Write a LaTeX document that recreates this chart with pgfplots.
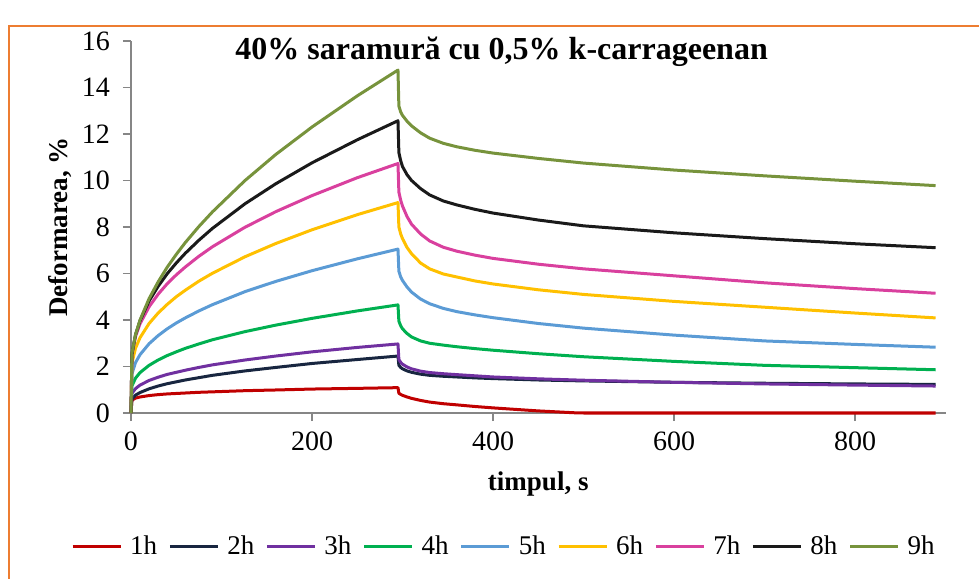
\documentclass[border=0pt]{standalone}
\usepackage{fontspec}
\setmainfont{Liberation Serif}
\usepackage{pgfplots}
\pgfplotsset{compat=1.18}

\definecolor{c1}{RGB}{192,0,0}
\definecolor{c2}{RGB}{24,38,64}
\definecolor{c3}{RGB}{112,48,160}
\definecolor{c4}{RGB}{0,176,80}
\definecolor{c5}{RGB}{91,155,213}
\definecolor{c6}{RGB}{255,192,0}
\definecolor{c7}{RGB}{217,64,158}
\definecolor{c8}{RGB}{26,26,26}
\definecolor{c9}{RGB}{119,147,60}
\definecolor{frame}{RGB}{237,125,49}
\definecolor{axgray}{RGB}{134,134,134}

\begin{document}
\begin{tikzpicture}
\useasboundingbox (0,0) rectangle (489.5pt,289pt);
% outer frame
\draw[frame, line width=1pt] (4.5pt,-20pt) -- (4.5pt,276pt) -- (520pt,276pt);

\begin{axis}[
  at={(65.5pt,82.5pt)}, anchor=south west,
  scale only axis, width=407.25pt, height=186pt,
  xmin=0, xmax=900, ymin=0, ymax=16,
  xtick={0,200,400,600,800}, ytick={0,2,...,16},
  axis x line=bottom, axis y line=left,
  axis line style={axgray, line width=0.6pt, -},
  tick style={axgray, line width=0.6pt},
  tick align=outside, major tick length=4pt,
  /pgf/number format/assume math mode=true,
  ticklabel style={font=\fontsize{14}{16}\selectfont},
  yticklabel style={xshift=-3pt},
  xticklabel style={yshift=-2pt},
  xlabel={\textbf{timpul, s}}, ylabel={\textbf{Deformarea, \%}},
  label style={font=\fontsize{13.5}{15}\selectfont},
  xlabel style={yshift=-3.5pt},
  ylabel style={yshift=-1.5pt},
  every axis plot/.append style={line width=1.5pt, no markers, line join=round},
  legend columns=9,
  legend style={at={(0.459,-0.358)}, anchor=center, draw=none, fill=none,
    font=\fontsize{13.5}{15}\selectfont, column sep=2pt,
    /tikz/every even column/.append style={column sep=3.6pt}},
  legend image code/.code={\draw[#1] (0pt,0pt) -- (24pt,0pt);},
  clip=false,
]
\addplot[c1] coordinates {(0,0)(1,0.55)(5,0.64)(10,0.69)(20,0.75)(30,0.79)(40,0.82)(50,0.84)(60,0.86)(75,0.89)(90,0.91)(126,0.96)(160,0.99)(200,1.03)(250,1.06)(295,1.09)(296,0.85)(298,0.80)(300,0.76)(305,0.69)(310,0.63)(320,0.54)(330,0.47)(345,0.40)(360,0.35)(380,0.28)(400,0.22)(450,0.09)(490,0.01)(500,0)(600,0)(700,0)(800,0)(889,0)};
\addlegendentry{1h}
\addplot[c2] coordinates {(0,0)(1,0.60)(5,0.77)(10,0.88)(20,1.04)(30,1.16)(40,1.26)(50,1.34)(60,1.42)(75,1.52)(90,1.62)(126,1.81)(160,1.96)(200,2.13)(250,2.30)(295,2.45)(296,2.05)(298,1.96)(300,1.90)(305,1.81)(310,1.75)(320,1.67)(330,1.62)(345,1.58)(360,1.55)(380,1.51)(400,1.48)(450,1.42)(500,1.38)(600,1.32)(700,1.28)(800,1.25)(889,1.23)};
\addlegendentry{2h}
\addplot[c3] coordinates {(0,0)(1,0.84)(5,1.05)(10,1.20)(20,1.40)(30,1.54)(40,1.66)(50,1.75)(60,1.84)(75,1.96)(90,2.07)(126,2.28)(160,2.45)(200,2.63)(250,2.82)(295,2.97)(296,2.30)(298,2.18)(300,2.10)(305,1.98)(310,1.90)(320,1.80)(330,1.74)(345,1.69)(360,1.65)(380,1.60)(400,1.55)(450,1.47)(500,1.41)(600,1.32)(700,1.25)(800,1.20)(889,1.16)};
\addlegendentry{3h}
\addplot[c4] coordinates {(0,0)(1,1.16)(5,1.50)(10,1.74)(20,2.05)(30,2.28)(40,2.47)(50,2.63)(60,2.78)(75,2.97)(90,3.15)(126,3.50)(160,3.78)(200,4.07)(250,4.39)(295,4.65)(296,3.95)(298,3.75)(300,3.62)(305,3.42)(310,3.27)(320,3.10)(330,3.00)(345,2.92)(360,2.85)(380,2.77)(400,2.70)(450,2.55)(500,2.42)(600,2.22)(700,2.05)(800,1.95)(889,1.86)};
\addlegendentry{4h}
\addplot[c5] coordinates {(0,0)(1,1.68)(5,2.17)(10,2.51)(20,2.98)(30,3.33)(40,3.62)(50,3.87)(60,4.09)(75,4.39)(90,4.66)(126,5.22)(160,5.66)(200,6.12)(250,6.63)(295,7.05)(296,6.10)(298,5.85)(300,5.70)(305,5.42)(310,5.20)(320,4.90)(330,4.70)(345,4.50)(360,4.36)(380,4.22)(400,4.10)(450,3.85)(500,3.65)(600,3.35)(700,3.10)(800,2.95)(889,2.83)};
\addlegendentry{5h}
\addplot[c6] coordinates {(0,0)(1,2.14)(5,2.79)(10,3.24)(20,3.85)(30,4.30)(40,4.67)(50,5.00)(60,5.28)(75,5.67)(90,6.01)(126,6.72)(160,7.29)(200,7.88)(250,8.53)(295,9.05)(296,8.00)(298,7.70)(300,7.50)(305,7.12)(310,6.85)(320,6.45)(330,6.20)(345,5.98)(360,5.85)(380,5.68)(400,5.55)(450,5.30)(500,5.10)(600,4.80)(700,4.55)(800,4.30)(889,4.09)};
\addlegendentry{6h}
\addplot[c7] coordinates {(0,0)(1,2.50)(5,3.29)(10,3.84)(20,4.57)(30,5.11)(40,5.56)(50,5.94)(60,6.28)(75,6.74)(90,7.15)(126,7.99)(160,8.66)(200,9.35)(250,10.12)(295,10.73)(296,9.50)(298,9.15)(300,8.90)(305,8.45)(310,8.12)(320,7.70)(330,7.40)(345,7.13)(360,6.96)(380,6.79)(400,6.65)(450,6.40)(500,6.20)(600,5.90)(700,5.60)(800,5.35)(889,5.15)};
\addlegendentry{7h}
\addplot[c8] coordinates {(0,0)(1,2.53)(5,3.37)(10,3.97)(20,4.82)(30,5.45)(40,5.99)(50,6.45)(60,6.87)(75,7.43)(90,7.94)(126,9.00)(160,9.86)(200,10.76)(250,11.75)(295,12.57)(296,11.20)(298,10.85)(300,10.60)(305,10.25)(310,10.00)(320,9.65)(330,9.38)(345,9.12)(360,8.95)(380,8.76)(400,8.60)(450,8.30)(500,8.05)(600,7.75)(700,7.50)(800,7.28)(889,7.11)};
\addlegendentry{8h}
\addplot[c9] coordinates {(0,0)(1,2.57)(5,3.37)(10,4.00)(20,4.92)(30,5.64)(40,6.27)(50,6.82)(60,7.33)(75,8.02)(90,8.65)(126,10.00)(160,11.12)(200,12.30)(250,13.64)(295,14.75)(296,13.20)(298,12.95)(300,12.80)(305,12.55)(310,12.35)(320,12.05)(330,11.82)(345,11.60)(360,11.45)(380,11.30)(400,11.18)(450,10.95)(500,10.75)(600,10.45)(700,10.20)(800,9.97)(889,9.78)};
\addlegendentry{9h}
\node[font=\fontsize{16}{18}\selectfont\bfseries] at (rel axis cs:0.455,0.970) {40\% saramură cu 0,5\% k-carrageenan};
\end{axis}
\end{tikzpicture}
\end{document}
